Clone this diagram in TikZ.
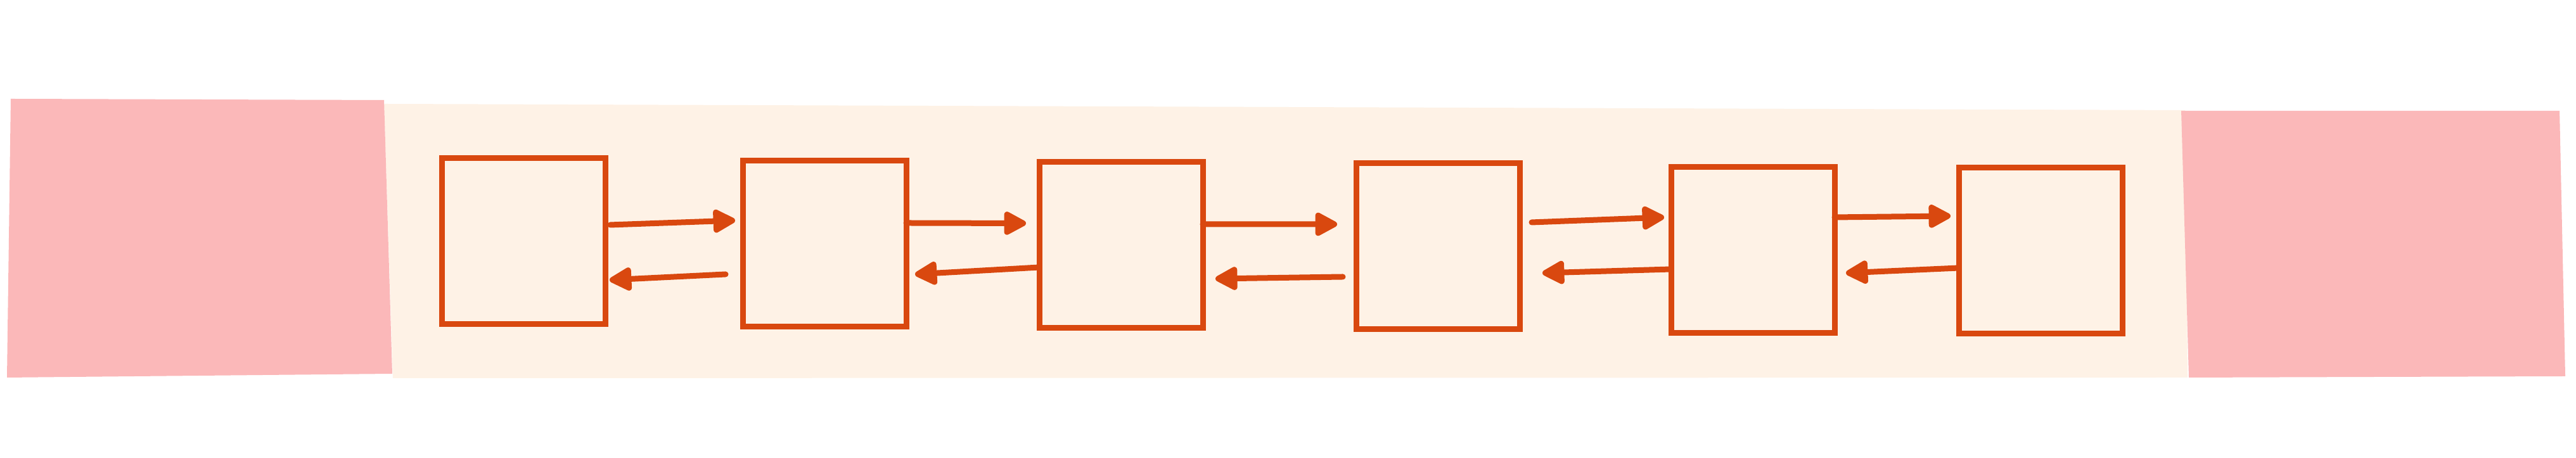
\documentclass[tikz,border=0pt]{standalone}
\usepackage{xcolor}
\usepackage{tikz}
\usetikzlibrary{arrows.meta,positioning}

\definecolor{sketchorange}{HTML}{D9480F}
\definecolor{padpink}{HTML}{FBB8B9}
\definecolor{bandcream}{HTML}{FEF2E6}

\begin{document}
\begin{tikzpicture}[
  cell/.style={draw=sketchorange, line width=0.09cm, fill=bandcream,
    minimum width=2.58cm, minimum height=2.62cm, inner sep=0pt, outer sep=0pt},
  arr/.style={-{Triangle[length=0.40cm, width=0.40cm, round]},
    draw=sketchorange, line width=0.09cm, line cap=round}
]
  \fill[white] (0,0) rectangle (40.65,7.23);
  \useasboundingbox (0,0) rectangle (40.65,7.23);

  % band and the two pads
  \fill[bandcream] (6.06,5.59) -- (34.48,5.49) -- (34.52,1.27) -- (6.20,1.26) -- cycle;
  \fill[padpink] (0.17,5.67) -- (6.06,5.65) -- (6.19,1.33) -- (0.11,1.27) -- cycle;
  \fill[padpink] (34.42,5.48) -- (40.39,5.48) -- (40.48,1.29) -- (34.54,1.27) -- cycle;

  % cells
  \node[cell] (c1) at (8.26,3.42) {};
  \node[cell, right=2.17cm of c1, yshift=-0.04cm] (c2) {};
  \node[cell, right=2.10cm of c2, yshift=-0.015cm] (c3) {};
  \node[cell, right=2.42cm of c3, yshift=-0.02cm] (c4) {};
  \node[cell, right=2.39cm of c4, yshift=-0.06cm] (c5) {};
  \node[cell, right=1.96cm of c5, yshift=-0.015cm] (c6) {};

  % forward links
  \draw[arr] ([shift={(0.08,0.26)}]c1.east) -- ([shift={(-0.12,0.37)}]c2.west);
  \draw[arr] ([shift={(0,0.33)}]c2.east) -- ([shift={(-0.21,0.34)}]c3.west);
  \draw[arr] ([shift={(0,0.325)}]c3.east) -- ([shift={(-0.30,0.345)}]c4.west);
  \draw[arr] ([shift={(0.19,0.375)}]c4.east) -- ([shift={(-0.11,0.515)}]c5.west);
  \draw[arr] ([shift={(0,0.515)}]c5.east) -- ([shift={(-0.13,0.55)}]c6.west);

  % backward links
  \draw[arr] ([shift={(-0.27,-0.48)}]c2.west) -- ([shift={(0.07,-0.61)}]c1.east);
  \draw[arr] ([shift={(0,-0.355)}]c3.west) -- ([shift={(0.14,-0.48)}]c2.east);
  \draw[arr] ([shift={(-0.21,-0.485)}]c4.west) -- ([shift={(0.20,-0.535)}]c3.east);
  \draw[arr] ([shift={(0,-0.305)}]c5.west) -- ([shift={(0.36,-0.425)}]c4.east);
  \draw[arr] ([shift={(0,-0.27)}]c6.west) -- ([shift={(0.18,-0.365)}]c5.east);
\end{tikzpicture}
\end{document}
